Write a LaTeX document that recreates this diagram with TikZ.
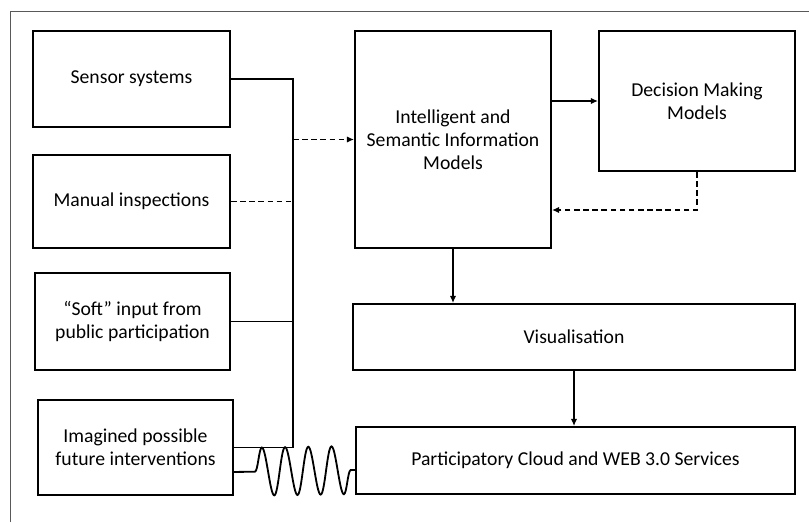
\documentclass[tikz,border=0pt]{standalone}
\usepackage{fontspec}
\setmainfont{Carlito}
\usetikzlibrary{arrows.meta,decorations.pathmorphing}

\begin{document}
\begin{tikzpicture}[
    x=0.025cm, y=-0.025cm,
    % Boxes (plain rectangles, centred text)
    box/.style={draw, line width=1.4pt, align=center, inner sep=2pt,
                font=\fontsize{14}{16.5}\selectfont},
    % Connectors
    link/.style={line width=1.3pt},
    arrow/.style={link, -{Latex[length=5pt,width=4.5pt]}},
    broken/.style={dash pattern=on 4pt off 2.5pt},
    % Wavy connector
    wiggle/.style={link, decorate, decoration={snake, segment length=0.58cm,
                   amplitude=0.6cm, pre length=0.55cm, post length=0.12cm}}
]
    \useasboundingbox (0,0) rectangle (809,522);

    % --- Frame ---
    \draw[gray!70!black, line width=0.6pt] (10,522) -- (10,11) -- (809,11);

    % --- Input boxes (left column) ---
    \node[box, minimum width=197*0.025cm, minimum height=96*0.025cm]
        (sensor) at (131.5,79) {Sensor systems};
    \node[box, minimum width=197*0.025cm, minimum height=93*0.025cm]
        (manual) at (131.5,201.5) {Manual inspections};
    \node[box, minimum width=195*0.025cm, minimum height=97*0.025cm]
        (soft) at (132.5,321.5) {``Soft'' input from\\public participation};
    \node[box, minimum width=195*0.025cm, minimum height=95*0.025cm]
        (imagined) at (135.5,447.5) {Imagined possible\\future interventions};

    % --- Model boxes ---
    \node[box, minimum width=196*0.025cm, minimum height=217*0.025cm]
        (ism) at (453,139.5) {Intelligent and\\Semantic Information\\Models};
    \node[box, minimum width=196*0.025cm, minimum height=140*0.025cm]
        (dmm) at (697,101) {Decision Making\\Models};

    % --- Output boxes ---
    \node[box, minimum width=442*0.025cm, minimum height=66*0.025cm]
        (vis) at (574,337) {Visualisation};
    \node[box, minimum width=439*0.025cm, minimum height=67*0.025cm]
        (cloud) at (575.5,460.5) {Participatory Cloud and WEB 3.0 Services};

    % Bus line and wiggle end points
    \coordinate (bus) at (293,0);
    \coordinate (fb) at (0,210);
    \coordinate (wig) at (233,472);
    \coordinate (wag) at (356,470);

    % --- Inputs collected on the bus ---
    \draw[link] (sensor.east) -- (bus |- sensor.east)
        -- (bus |- imagined.east) -- (imagined.east);
    \draw[link, broken] (manual.east) -- (bus |- manual.east);
    \draw[link] (soft.east) -- (bus |- soft.east);
    \draw[arrow, broken] (bus |- ism.west) -- (ism.west);

    % --- Models ---
    \draw[arrow] (ism.east |- dmm.west) -- (dmm.west);
    \draw[arrow, broken] (dmm.south) -- (dmm.south |- fb) -- (ism.east |- fb);

    % --- Outputs ---
    \draw[arrow] (ism.south) -- (ism.south |- vis.north);
    \draw[arrow] (vis.south) -- (vis.south |- cloud.north);

    % --- Wavy link to the services ---
    \draw[wiggle] (wig) -- (wag);

\end{tikzpicture}
\end{document}
